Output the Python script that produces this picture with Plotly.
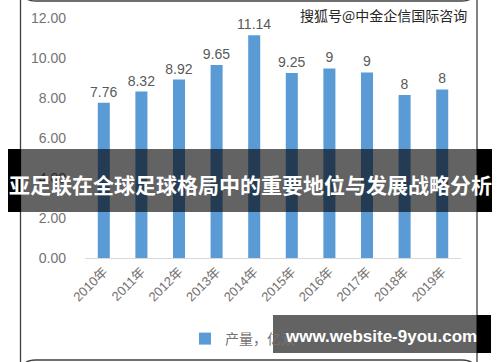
import plotly.graph_objects as go

years = ["2010年", "2011年", "2012年", "2013年", "2014年",
         "2015年", "2016年", "2017年", "2018年", "2019年"]
output_values = [7.76, 8.32, 8.92, 9.65, 11.14, 9.25, 9.48, 9.28, 8.15, 8.43]
output_labels = ["7.76", "8.32", "8.92", "9.65", "11.14", "9.25", "9", "9", "8", "8"]
y_ticks = [0, 2, 4, 6, 8, 10, 12]
series_name = "产量，亿双"

W, H = 500, 362
def px(x):
    return x / W
def py(y):
    return (H - y) / H

FONT = "Liberation Sans, Noto Sans CJK SC, sans-serif"
CJK = "Noto Sans CJK SC, sans-serif"

fig = go.Figure()
fig.add_trace(go.Bar(
    x=years, y=output_values, name=series_name,
    marker=dict(color="#5B9BD5", line=dict(width=0)),
    text=output_labels, textposition="outside", constraintext="none",
    textfont=dict(family=FONT, size=14, color="#595959"),
    cliponaxis=False, hoverinfo="skip",
))

shapes = []
# rounded chart border
x0, x1, y0, y1, r = px(20.5), px(477), py(1), py(360), 15
rx, ry = r / W, r / H
path = (f"M {x0},{y0 + ry} L {x0},{y1 - ry} Q {x0},{y1} {x0 + rx},{y1} "
        f"L {x1 - rx},{y1} Q {x1},{y1} {x1},{y1 - ry} L {x1},{y0 + ry} "
        f"Q {x1},{y0} {x1 - rx},{y0} L {x0 + rx},{y0} Q {x0},{y0} {x0},{y0 + ry} Z")
shapes.append(dict(type="path", xref="paper", yref="paper", path=path,
                   line=dict(color="#404040", width=1.3), fillcolor="rgba(0,0,0,0)",
                   layer="below"))
# title band
shapes.append(dict(type="rect", xref="paper", yref="paper", x0=px(8), x1=px(21),
                   y0=py(212), y1=py(149), fillcolor="black", line=dict(width=0), layer="above"))
shapes.append(dict(type="rect", xref="paper", yref="paper", x0=px(477), x1=px(492),
                   y0=py(212), y1=py(149), fillcolor="black", line=dict(width=0), layer="above"))
shapes.append(dict(type="rect", xref="paper", yref="paper", x0=px(21), x1=px(477),
                   y0=py(212), y1=py(149), fillcolor="rgba(0,0,0,0.61)", line=dict(width=0), layer="above"))
# website box
shapes.append(dict(type="rect", xref="paper", yref="paper", x0=px(273), x1=px(477),
                   y0=py(353), y1=py(315), fillcolor="rgba(0,0,0,0.61)", line=dict(width=0), layer="above"))
shapes.append(dict(type="rect", xref="paper", yref="paper", x0=px(477), x1=px(491),
                   y0=py(353), y1=py(315), fillcolor="black", line=dict(width=0), layer="above"))

annotations = [
    dict(text="搜狐号@中金企信国际咨询", xref="paper", yref="paper", x=px(383), y=py(15),
         xanchor="center", yanchor="middle", showarrow=False,
         font=dict(family=CJK, size=14, color="#262626")),
    dict(text="<b>亚足联在全球足球格局中的重要地位与发展战略分析</b>", xref="paper", yref="paper",
         x=px(250), y=py(184), xanchor="center", yanchor="middle", showarrow=False,
         font=dict(family=CJK, size=21, color="white")),
    dict(text="<b>www.website-9you.com</b>", xref="paper", yref="paper",
         x=px(381), y=py(336), xanchor="center", yanchor="middle", showarrow=False,
         font=dict(family="Liberation Sans, sans-serif", size=17, color="white")),
]

fig.update_layout(
    template="none",
    width=W, height=H, margin=dict(l=0, r=0, t=0, b=0, autoexpand=False),
    paper_bgcolor="white", plot_bgcolor="white",
    bargap=0.68, showlegend=True, hovermode=False,
    legend=dict(orientation="h", x=px(185), y=py(339), xanchor="left", yanchor="middle",
                font=dict(family=CJK, size=14, color="#767171"),
                bgcolor="rgba(0,0,0,0)"),
    xaxis=dict(domain=[px(85), px(461)], type="category", tickangle=-45, automargin=False,
               showline=True, linecolor="#d9d9d9", linewidth=1, ticks="",
               showgrid=False, tickfont=dict(family=FONT, size=13, color="#767171")),
    yaxis=dict(domain=[py(258), py(18)], range=[0, 12], tickvals=y_ticks, tickformat=".2f",
               showgrid=False, zeroline=False, showline=False, ticks="", automargin=False,
               ticklabelstandoff=18,
               tickfont=dict(family=FONT, size=14, color="#767171")),
    shapes=shapes, annotations=annotations,
)

fig.write_html("out.html", config={"displayModeBar": False},
               post_script="document.body.style.margin='0';document.body.style.padding='0';")
